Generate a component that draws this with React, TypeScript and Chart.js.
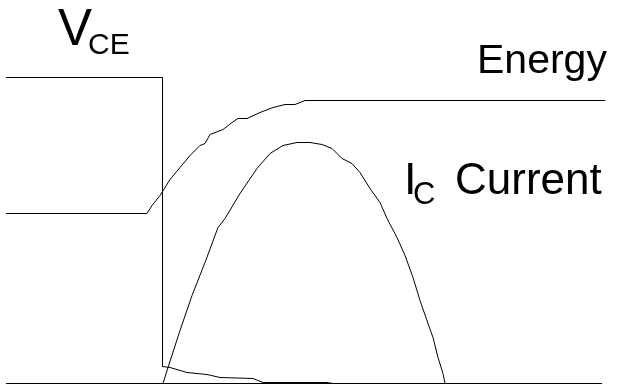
import React, { useEffect, useRef } from "react";
import { Chart, registerables } from "chart.js";

Chart.register(...registerables);

// Time axis (arbitrary units) and amplitudes above the baseline
const vceX = [6, 162.5, 162.5, 170, 187, 207, 220, 253, 263, 327, 333];
const vceY = [306, 306, 17, 16, 11, 9, 6, 5, 1, 1, 0];

const energyX = [6, 147, 152, 160, 170, 180, 190, 200, 205, 210, 223, 232, 238, 247, 260, 273, 285, 295, 305, 605];
const energyY = [170, 170, 178, 188, 204, 216, 228, 238, 240, 249, 254, 261, 265, 265, 271, 276, 279, 279, 283, 283];

const icX = [163, 168, 180, 192, 205, 218, 225, 240, 257, 270, 283, 297, 310, 322, 332, 342, 352, 360, 370, 380, 387, 397, 405, 413, 420, 428, 433, 438, 443, 445];
const icY = [0, 16, 53, 88, 121, 156, 165, 190, 215, 230, 238, 241, 241, 239, 235, 225, 220, 211, 195, 181, 165, 146, 128, 106, 83, 60, 46, 26, 10, 0];

const baseX = [6, 602];
const baseY = [0, 0];

const labels = [
  { main: "V", sub: "CE" },
  { main: "Energy", sub: "" },
  { main: "I", sub: "C", tail: "Current" },
];

const pts = (xs: number[], ys: number[]) => xs.map((x, i) => ({ x, y: ys[i] }));

const textPlugin = {
  id: "labels",
  afterDraw(chart: any) {
    const ctx = chart.ctx;
    ctx.save();
    ctx.fillStyle = "#000";
    ctx.textBaseline = "alphabetic";
    ctx.textAlign = "left";
    const fam = '"Liberation Sans", Arial, sans-serif';
    // V_CE
    ctx.font = `51px ${fam}`;
    ctx.fillText(labels[0].main, 58, 45);
    ctx.font = `30px ${fam}`;
    ctx.fillText(labels[0].sub, 88, 54);
    // Energy
    ctx.font = `41px ${fam}`;
    ctx.fillText(labels[1].main, 477, 73);
    // I_C Current
    ctx.font = `45px ${fam}`;
    ctx.fillText(labels[2].main, 404, 194);
    ctx.font = `31px ${fam}`;
    ctx.fillText(labels[2].sub, 413, 204);
    ctx.font = `44px ${fam}`;
    ctx.fillText(labels[2].tail!, 455, 194);
    ctx.restore();
  },
};

export default function App() {
  const ref = useRef<HTMLCanvasElement>(null);
  useEffect(() => {
    document.body.style.margin = "0";
    const ds = (data: { x: number; y: number }[]) => ({
      data,
      borderColor: "#000",
      borderWidth: 1,
      pointRadius: 0,
      fill: false,
      tension: 0,
    });
    const chart = new Chart(ref.current!, {
      type: "line",
      data: {
        datasets: [
          ds(pts(baseX, baseY)),
          ds(pts(vceX, vceY)),
          ds(pts(energyX, energyY)),
          ds(pts(icX, icY)),
        ],
      },
      options: {
        animation: false,
        responsive: false,
        layout: { padding: 0 },
        plugins: { legend: { display: false }, tooltip: { enabled: false } },
        scales: {
          x: { type: "linear", min: 0, max: 618, display: false },
          y: { type: "linear", min: -2.5, max: 383.5, display: false },
        },
      },
      plugins: [textPlugin],
    });
    return () => chart.destroy();
  }, []);
  return (
    <div style={{ position: "fixed", left: 0, top: 0, width: 618, height: 386, background: "#fff" }}>
      <canvas ref={ref} width={618} height={386} />
    </div>
  );
}
